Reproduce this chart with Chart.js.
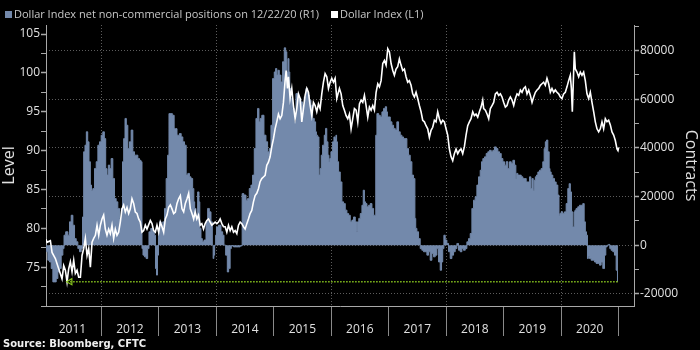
<!DOCTYPE html>
<html>
<head>
<meta charset="utf-8">
<script src="https://cdn.jsdelivr.net/npm/chart.js@4.4.1/dist/chart.umd.min.js"></script>
<style>
  html, body { margin: 0; padding: 0; background: #000; }
  #chart { display: block; }
</style>
</head>
<body>
<canvas id="chart" width="700" height="350"></canvas>
<script>
'use strict';

// ******** DATA (time as decimal year) **************

// Dollar Index net non-commercial positions, contracts
let posYears = [
  2011.04, 2011.058, 2011.087, 2011.116, 2011.145, 2011.174, 2011.203, 2011.232, 2011.261, 2011.29,
  2011.319, 2011.348, 2011.359, 2011.406, 2011.435, 2011.464, 2011.493, 2011.522, 2011.551, 2011.58,
  2011.609, 2011.638, 2011.667, 2011.684, 2011.707, 2011.73, 2011.754, 2011.777, 2011.8, 2011.823,
  2011.841, 2011.87, 2011.899, 2011.928, 2011.957, 2011.986, 2012.014, 2012.043, 2012.067, 2012.09,
  2012.113, 2012.136, 2012.159, 2012.188, 2012.217, 2012.246, 2012.275, 2012.304, 2012.333, 2012.362,
  2012.38, 2012.403, 2012.426, 2012.449, 2012.478, 2012.507, 2012.536, 2012.565, 2012.594, 2012.623,
  2012.652, 2012.681, 2012.704, 2012.716, 2012.739, 2012.768, 2012.797, 2012.82, 2012.843, 2012.884,
  2012.913, 2012.936, 2012.954, 2012.971, 2012.988, 2013.006, 2013.029, 2013.058, 2013.087, 2013.116,
  2013.145, 2013.168, 2013.191, 2013.226, 2013.249, 2013.29, 2013.348, 2013.377, 2013.406, 2013.435,
  2013.464, 2013.493, 2013.522,
  2013.548, 2013.577, 2013.606, 2013.618, 2013.635, 2013.664, 2013.693, 2013.71, 2013.722, 2013.751,
  2013.768, 2013.809, 2013.838, 2013.867, 2013.896, 2013.925, 2013.942, 2013.954, 2013.965, 2013.983,
  2014.0, 2014.012, 2014.07, 2014.099, 2014.128, 2014.145, 2014.186, 2014.203, 2014.232, 2014.255,
  2014.273, 2014.331, 2014.389, 2014.447, 2014.458, 2014.505, 2014.534, 2014.562, 2014.591, 2014.62,
  2014.649, 2014.678, 2014.707, 2014.736, 2014.754, 2014.777, 2014.812, 2014.852, 2014.881, 2014.91,
  2014.939, 2014.968, 2014.997, 2015.026, 2015.044, 2015.067, 2015.084, 2015.113, 2015.142, 2015.171,
  2015.2, 2015.218, 2015.241, 2015.258, 2015.276, 2015.287, 2015.316, 2015.345, 2015.374, 2015.403,
  2015.432, 2015.461, 2015.49, 2015.519, 2015.548, 2015.577, 2015.606, 2015.635, 2015.664, 2015.693,
  2015.722, 2015.739, 2015.751, 2015.78, 2015.797, 2015.82, 2015.838, 2015.867, 2015.896, 2015.913,
  2015.936, 2015.954, 2015.971, 2015.983, 2016.012, 2016.041, 2016.058, 2016.081,
  2016.087, 2016.104, 2016.116, 2016.145, 2016.174, 2016.203, 2016.232, 2016.261, 2016.29, 2016.319,
  2016.348, 2016.377, 2016.406, 2016.435, 2016.452, 2016.47, 2016.493, 2016.522, 2016.551, 2016.568,
  2016.591, 2016.609, 2016.638, 2016.667, 2016.696, 2016.725, 2016.754, 2016.771, 2016.783, 2016.812,
  2016.841, 2016.87, 2016.899, 2016.928, 2016.957, 2016.974, 2016.986, 2017.015, 2017.044, 2017.073,
  2017.101, 2017.13, 2017.159, 2017.188, 2017.217, 2017.246, 2017.275, 2017.304, 2017.333, 2017.362,
  2017.391, 2017.42, 2017.449, 2017.467, 2017.478, 2017.507, 2017.536, 2017.565, 2017.594, 2017.623,
  2017.652, 2017.681, 2017.71, 2017.739, 2017.768, 2017.797, 2017.826, 2017.855, 2017.884, 2017.913,
  2017.93, 2017.954, 2017.971, 2018.0, 2018.029, 2018.058, 2018.087, 2018.116, 2018.145, 2018.174,
  2018.203, 2018.232, 2018.261, 2018.29, 2018.319, 2018.348, 2018.377, 2018.406, 2018.435, 2018.464,
  2018.493, 2018.522, 2018.551, 2018.58, 2018.609,
  2018.626, 2018.655, 2018.684, 2018.713, 2018.742, 2018.771, 2018.8, 2018.829, 2018.858, 2018.887,
  2018.916, 2018.945, 2018.974, 2019.003, 2019.032, 2019.061, 2019.09, 2019.119, 2019.148, 2019.177,
  2019.206, 2019.223, 2019.235, 2019.264, 2019.293, 2019.322, 2019.351, 2019.38, 2019.409, 2019.438,
  2019.467, 2019.484, 2019.507, 2019.525, 2019.542, 2019.565, 2019.583, 2019.612, 2019.64, 2019.669,
  2019.698, 2019.716, 2019.739, 2019.756, 2019.785, 2019.803, 2019.814, 2019.843, 2019.872, 2019.901,
  2019.93, 2019.959, 2019.971, 2019.988, 2020.017, 2020.046, 2020.075, 2020.104, 2020.133, 2020.151,
  2020.174, 2020.191, 2020.22, 2020.238, 2020.249, 2020.278, 2020.307, 2020.336, 2020.365, 2020.394,
  2020.412, 2020.435, 2020.452, 2020.469, 2020.481, 2020.51, 2020.539, 2020.568, 2020.597, 2020.626,
  2020.655, 2020.684, 2020.713, 2020.742, 2020.771, 2020.788, 2020.817, 2020.84, 2020.858, 2020.887,
  2020.916, 2020.945, 2020.974, 2020.991
];
let posValues = [
  -1500, -2700, -6200, -6900, -9600, -15100, -15100, -13700, -11000, -9600,
  -4100, -1400, 4100, 5500, 4100, 9600, 12300, 8200, 2700, 1400,
  -1400, -2700, -1400, 11600, 38400, 41100, 46600, 42500, 34300, 24700,
  22600, 23300, 31500, 34300, 41100, 42500, 45200, 46600, 43800, 31500,
  28800, 32900, 31500, 35600, 27400, 19200, 17800, 15100, 11000, 15100,
  34300, 43800, 52100, 49300, 39700, 42500, 47300, 38400, 37000, 37000,
  35600, 34900, 34300, -1400, -4100, -4800, -5500, -1400, 5500, 6900,
  5500, 4100, -9600, -12300, -4100, 6900, 9600, 8200, 9600, 15100,
  27400, 37000, 54100, 54100, 53400, 47900, 45200, 45900, 44500, 42500,
  41100, 28800, 29500,
  28100, 27400, 23300, 17800, 15100, 12300, 21900, 17800, 6900, 2700,
  1400, 2100, 9600, 15100, 13700, 9600, 0, -5500, -4100, 0,
  4100, 7500, 8200, 5500, 4100, 0, -4100, -11000, -9600, -1400,
  -300, -700, -700, -300, 21200, 20600, 18500, 19200, 23300, 24700,
  28800, 39700, 52100, 56200, 50700, 52100, 53400, 45200, 42500, 38400,
  39700, 49300, 68500, 71200, 72600, 69900, 71900, 69900, 67100, 75400,
  81100, 79500, 71200, 76700, 71200, 64400, 60300, 56200, 50700, 62300,
  61000, 60300, 58900, 57500, 61000, 64400, 61700, 59600, 57500, 52100,
  50700, 46600, 45200, 44500, 28800, 31500, 37000, 41100, 45200, 48000,
  42500, 37000, 34300, 35600, 38400, 42500, 44500, 43800,
  45200, 42500, 34300, 30100, 26000, 17800, 17100, 14400, 13000, 12300,
  9600, 10300, 11600, 9600, 5500, 9600, 11000, 13000, 16400, 22600,
  17800, 17100, 15800, 16400, 17100, 15100, 12300, 12300, 45200, 54100,
  53400, 52700, 54800, 56200, 56900, 54800, 52700, 52700, 50700, 49300,
  48000, 47300, 50700, 46600, 45200, 44500, 43800, 43800, 39700, 37000,
  34300, 28800, 27400, 11000, 6900, 5500, 2700, -1400, -2100, -2700,
  -2700, -4100, -2700, -6200, -3400, -4800, -4100, -1400, -6900, -10300,
  -6900, -1400, 4100, 2100, 700, -2700, -5500, -4100, -2700, -1400,
  700, -2100, -2700, -1400, -2100, -1400, 1400, 2700, 4800, 15100,
  18500, 19900, 24700, 28100, 30800,
  34300, 35600, 36300, 37700, 38400, 39000, 38400, 39000, 40400, 39700,
  38400, 37700, 35600, 34300, 32900, 34300, 31500, 34300, 33600, 34900,
  32900, 27400, 29500, 28800, 28800, 28100, 27400, 27400, 26000, 26000,
  28100, 23300, 27400, 22600, 26700, 28100, 28800, 30100, 30800, 31500,
  34300, 39700, 42500, 43200, 38400, 31500, 30100, 28800, 27400, 26000,
  24700, 20600, 12300, 13000, 13700, 13000, 13700, 17100, 23300, 25300,
  21900, 13700, 7500, 13700, 14400, 15100, 15800, 16400, 16400, 17100,
  9600, 5500, 4100, -5500, -4800, -5500, -6200, -6200, -6900, -7500,
  -7500, -8200, -6900, -9600, -4100, -700, 0, 300, -1400, -2100,
  -2700, -4100, -10300, -15000
];

// Dollar Index level
let dxyYears = [
  2011.04, 2011.058, 2011.116, 2011.145, 2011.203, 2011.261, 2011.319, 2011.348, 2011.377, 2011.406,
  2011.435, 2011.464, 2011.493, 2011.522, 2011.551, 2011.58, 2011.609, 2011.638, 2011.667, 2011.696,
  2011.725, 2011.754, 2011.783, 2011.812, 2011.841, 2011.87, 2011.899, 2011.928, 2011.957, 2011.986,
  2012.014, 2012.043, 2012.072, 2012.101, 2012.13, 2012.159, 2012.188, 2012.217, 2012.246, 2012.275,
  2012.304, 2012.333, 2012.362, 2012.391, 2012.42, 2012.449, 2012.478, 2012.507, 2012.536, 2012.565,
  2012.594, 2012.623, 2012.652, 2012.681, 2012.71, 2012.739, 2012.768, 2012.797, 2012.855, 2012.884,
  2012.913, 2012.942, 2012.971, 2013.0, 2013.029, 2013.058, 2013.087, 2013.116, 2013.145, 2013.174,
  2013.203, 2013.232, 2013.261, 2013.29, 2013.319, 2013.348, 2013.377, 2013.406, 2013.435, 2013.464,
  2013.493, 2013.522, 2013.551, 2013.58, 2013.609,
  2013.635, 2013.664, 2013.693, 2013.722, 2013.751, 2013.78, 2013.809, 2013.838, 2013.867, 2013.896,
  2013.925, 2013.954, 2013.983, 2014.012, 2014.041, 2014.07, 2014.099, 2014.128, 2014.157, 2014.186,
  2014.215, 2014.244, 2014.273, 2014.302, 2014.331, 2014.36, 2014.389, 2014.418, 2014.447, 2014.476,
  2014.505, 2014.534, 2014.562, 2014.591, 2014.62, 2014.649, 2014.678, 2014.707, 2014.736, 2014.765,
  2014.794, 2014.823, 2014.852, 2014.881, 2014.91, 2014.939, 2014.968, 2014.997, 2015.026, 2015.055,
  2015.084, 2015.113, 2015.142, 2015.171, 2015.2, 2015.218, 2015.241, 2015.258, 2015.287, 2015.316,
  2015.345, 2015.374, 2015.403, 2015.432, 2015.461, 2015.49, 2015.519, 2015.548, 2015.577, 2015.606,
  2015.635, 2015.664, 2015.693, 2015.722, 2015.751, 2015.78, 2015.809, 2015.838, 2015.867, 2015.896,
  2015.925, 2015.954, 2015.983, 2016.012, 2016.041, 2016.07,
  2016.099, 2016.145, 2016.174, 2016.203, 2016.232, 2016.261, 2016.29, 2016.319, 2016.348, 2016.377,
  2016.406, 2016.435, 2016.464, 2016.493, 2016.522, 2016.551, 2016.58, 2016.609, 2016.638, 2016.667,
  2016.696, 2016.725, 2016.754, 2016.783, 2016.812, 2016.841, 2016.87, 2016.899, 2016.928, 2016.957,
  2016.986, 2017.015, 2017.044, 2017.073, 2017.101, 2017.13, 2017.159, 2017.188, 2017.217, 2017.246,
  2017.275, 2017.304, 2017.333, 2017.362, 2017.391, 2017.42, 2017.449, 2017.478, 2017.507, 2017.536,
  2017.565, 2017.594, 2017.623, 2017.652, 2017.681, 2017.71, 2017.739, 2017.768, 2017.797, 2017.826,
  2017.855, 2017.884, 2017.913, 2017.942, 2017.971, 2018.0, 2018.029, 2018.058, 2018.087, 2018.116,
  2018.145, 2018.174, 2018.203, 2018.232, 2018.261, 2018.29, 2018.319, 2018.348, 2018.377, 2018.406,
  2018.435, 2018.464, 2018.493, 2018.522, 2018.551, 2018.58, 2018.609,
  2018.638, 2018.655, 2018.684, 2018.713, 2018.742, 2018.771, 2018.8, 2018.829, 2018.858, 2018.887,
  2018.916, 2018.945, 2018.974, 2019.003, 2019.032, 2019.061, 2019.09, 2019.119, 2019.148, 2019.177,
  2019.206, 2019.235, 2019.264, 2019.293, 2019.322, 2019.351, 2019.38, 2019.409, 2019.438, 2019.467,
  2019.496, 2019.525, 2019.554, 2019.583, 2019.612, 2019.64, 2019.669, 2019.698, 2019.727, 2019.756,
  2019.785, 2019.814, 2019.843, 2019.872, 2019.901, 2019.93, 2019.959, 2019.988, 2020.017, 2020.046,
  2020.075, 2020.104, 2020.133, 2020.162, 2020.18, 2020.197, 2020.214, 2020.232, 2020.249, 2020.278,
  2020.307, 2020.336, 2020.365, 2020.394, 2020.423, 2020.452, 2020.481, 2020.51, 2020.539, 2020.568,
  2020.597, 2020.626, 2020.655, 2020.684, 2020.713, 2020.742, 2020.771, 2020.8, 2020.829, 2020.858,
  2020.887, 2020.916, 2020.945, 2020.974, 2020.991, 2021.003
];
let dxyValues = [
  78.6, 78.2, 78.4, 76.9, 76.1, 74.8, 73.5, 75.2, 74.6, 73.1,
  74.8, 75.7, 74.4, 75.9, 74.2, 74.6, 73.7, 73.7, 76.5, 77.4,
  78.7, 76.5, 77.4, 75.0, 78.2, 78.7, 79.1, 80.4, 79.1, 80.4,
  81.2, 81.7, 79.9, 79.1, 79.9, 79.3, 80.4, 78.7, 79.9, 79.1,
  79.5, 80.8, 82.5, 83.0, 82.1, 82.7, 81.9, 82.5, 83.8, 83.2,
  82.1, 81.9, 81.2, 80.8, 79.5, 79.7, 80.4, 79.9, 81.0, 80.6,
  79.7, 79.5, 80.4, 79.5, 80.8, 80.2, 79.5, 81.2, 81.7, 82.7,
  83.0, 82.5, 81.9, 82.1, 83.2, 83.8, 84.2, 82.5, 82.1, 83.2,
  83.8, 84.5, 82.5, 81.9, 81.2,
  82.1, 81.2, 81.7, 80.4, 80.6, 79.9, 80.6, 81.0, 81.2, 80.8,
  80.4, 80.6, 80.8, 80.6, 80.8, 81.2, 80.6, 80.2, 80.2, 79.5,
  80.4, 79.7, 80.2, 79.5, 79.7, 79.3, 80.4, 80.8, 80.6, 80.2,
  79.9, 80.6, 81.2, 81.9, 82.3, 83.4, 84.2, 84.5, 85.1, 86.0,
  86.4, 86.6, 86.8, 88.1, 88.5, 89.2, 90.5, 91.5, 92.8, 93.7,
  94.7, 94.1, 94.5, 96.2, 99.0, 100.3, 98.0, 99.5, 96.7, 98.0,
  95.8, 94.1, 95.4, 97.3, 96.7, 93.7, 95.4, 97.1, 98.0, 97.5,
  95.8, 94.5, 96.2, 95.8, 95.0, 96.0, 95.4, 97.3, 98.8, 99.9,
  99.5, 98.0, 98.8, 99.3, 98.8, 99.3,
  96.7, 98.0, 97.3, 95.8, 95.2, 94.5, 94.1, 94.7, 92.8, 94.1,
  95.4, 95.2, 93.7, 96.0, 96.5, 96.2, 97.1, 95.8, 94.3, 95.6,
  95.2, 95.8, 95.2, 97.5, 98.6, 98.2, 99.0, 101.2, 101.6, 101.0,
  103.1, 102.7, 101.2, 100.3, 99.7, 100.5, 100.8, 101.8, 101.0, 100.3,
  100.5, 99.5, 98.8, 99.0, 98.4, 97.3, 96.9, 97.5, 96.7, 95.8,
  95.0, 93.9, 93.7, 93.2, 92.8, 91.7, 92.6, 93.0, 93.9, 93.7,
  95.0, 94.1, 93.5, 93.9, 93.7, 92.8, 92.0, 90.2, 89.2, 88.7,
  89.6, 90.2, 89.6, 90.0, 90.2, 89.6, 90.5, 92.0, 93.2, 93.7,
  94.1, 95.0, 94.5, 94.7, 94.3, 95.0, 95.6,
  96.5, 95.4, 95.2, 94.7, 94.1, 95.4, 95.8, 96.2, 97.3, 97.5,
  97.1, 97.3, 96.9, 96.2, 95.6, 95.8, 96.5, 96.9, 96.5, 95.8,
  96.7, 97.3, 97.1, 97.8, 97.5, 98.0, 98.2, 97.3, 97.8, 97.1,
  96.2, 96.9, 97.5, 97.8, 98.0, 98.4, 98.6, 98.8, 98.4, 99.3,
  98.6, 97.5, 98.0, 97.5, 97.8, 97.5, 97.3, 96.9, 96.7, 97.3,
  97.5, 98.2, 99.0, 99.7, 98.0, 95.0, 98.8, 102.7, 100.5, 100.1,
  99.5, 100.1, 99.7, 100.1, 99.0, 97.3, 96.7, 97.5, 96.2, 95.0,
  93.7, 92.8, 92.4, 92.8, 93.7, 92.8, 94.1, 93.7, 93.9, 93.3,
  92.4, 92.0, 91.3, 90.2, 90.0, 90.4
];

// axis labels
let yearLabels = ['2011', '2012', '2013', '2014', '2015', '2016', '2017', '2018', '2019', '2020'];
let levelTicks = [75, 80, 85, 90, 95, 100, 105];
let contractTicks = [-20000, 0, 20000, 40000, 60000, 80000];
let legendLabels = ['Dollar Index net non-commercial positions on 12/22/20 (R1)', 'Dollar Index (L1)'];
let sourceText = 'Source: Bloomberg, CFTC';

// last position marker runs back to here
let markerStart = 2011.46;
let lastPosition = posValues[posValues.length - 1];

// ********* STYLE ****************
let posColor = '#7389ab';
let lineColor = '#ffffff';
let markerColor = '#86c21e';
let axisColor = '#a8a8a8';
let gridColor = '#5c5c5c';
let textColor = '#e0e0e0';

Chart.defaults.font.family = "'Open Sans', sans-serif";
Chart.defaults.color = textColor;

// ********* HELPERS ****************
function toPoints(xs, ys) {
  return xs.map((x, i) => ({ x: x, y: ys[i] }));
}

// year boundaries + mid-year label slots
let xTickValues = [];
yearLabels.forEach((y) => {
  xTickValues.push(Number(y) + 0.5);
  xTickValues.push(Number(y) + 1);
});

let leftTickValues = [];
for (let v = 70; v <= 105; v += 2.5) leftTickValues.push(v);

let rightTickValues = [];
for (let v = -20000; v <= 90000; v += 10000) rightTickValues.push(v);

// legend + source line
const headerFooter = {
  id: 'headerFooter',
  afterDraw(chart) {
    const ctx = chart.ctx;
    ctx.save();
    ctx.textBaseline = 'middle';
    ctx.font = "11px 'Open Sans'";
    ctx.fillStyle = posColor;
    ctx.fillRect(5, 11, 7, 7);
    ctx.fillStyle = '#c8c8c8';
    ctx.fillText(legendLabels[0], 14, 15);
    let x2 = 14 + ctx.measureText(legendLabels[0]).width + 12;
    ctx.fillStyle = lineColor;
    ctx.fillRect(x2, 11, 7, 7);
    ctx.fillStyle = '#c8c8c8';
    ctx.fillText(legendLabels[1], x2 + 9, 15);

    ctx.font = "bold 10px 'DejaVu Sans'";
    ctx.fillStyle = '#f0f0f0';
    ctx.fillText(sourceText, 3, 344);
    ctx.restore();
  }
};

// ********* CHART ****************
let canvasElem = document.getElementById('chart');

new Chart(canvasElem, {
  type: 'line',
  data: {
    datasets: [
      {
        label: 'last',
        data: [{ x: markerStart, y: lastPosition }, { x: posYears[posYears.length - 1], y: lastPosition }],
        yAxisID: 'yR',
        borderColor: markerColor,
        borderWidth: 1.5,
        borderDash: [1.5, 1.5],
        pointStyle: 'triangle',
        rotation: 270,
        pointRadius: [3.5, 0],
        pointBackgroundColor: 'transparent',
        pointBorderColor: markerColor,
        pointBorderWidth: 1.2
      },
      {
        label: legendLabels[1],
        data: toPoints(dxyYears, dxyValues),
        yAxisID: 'yL',
        borderColor: lineColor,
        borderWidth: 1.6,
        pointRadius: 0,
        tension: 0
      },
      {
        label: legendLabels[0],
        data: toPoints(posYears, posValues),
        yAxisID: 'yR',
        borderColor: posColor,
        backgroundColor: posColor,
        borderWidth: 1,
        fill: 'origin',
        stepped: 'middle',
        pointRadius: 0
      }
    ]
  },
  options: {
    responsive: false,
    animation: false,
    devicePixelRatio: 1,
    layout: { padding: { top: 25, left: 0, right: 0, bottom: 0 } },
    plugins: {
      legend: { display: false },
      tooltip: { enabled: false }
    },
    scales: {
      x: {
        type: 'linear',
        min: 2011.04,
        max: 2021.27,
        afterBuildTicks: (scale) => { scale.ticks = xTickValues.map((v) => ({ value: v })); },
        afterFit: (scale) => { scale.height = 44; },
        grid: {
          color: (c) => (c.tick && Number.isInteger(c.tick.value) && c.tick.value % 2 === 0) ? gridColor : 'transparent',
          tickColor: (c) => (c.tick && Number.isInteger(c.tick.value)) ? '#8a8a8a' : 'transparent',
          tickLength: 30,
          lineWidth: 1
        },
        border: { color: axisColor, width: 1, dash: [1, 2] },
        ticks: {
          autoSkip: false,
          maxRotation: 0,
          padding: -14,
          color: textColor,
          font: { size: 12 },
          callback: (v) => Number.isInteger(v) ? '' : String(Math.floor(v))
        }
      },
      yL: {
        position: 'left',
        min: 70,
        max: 106.16,
        afterBuildTicks: (scale) => { scale.ticks = leftTickValues.map((v) => ({ value: v })); },
        afterFit: (scale) => { scale.width = 46; },
        grid: {
          drawOnChartArea: false,
          tickLength: 5,
          tickColor: axisColor,
          tickWidth: (c) => (c.tick && levelTicks.includes(c.tick.value)) ? 1.5 : 1
        },
        border: { color: axisColor, width: 1 },
        ticks: {
          padding: 1,
          color: textColor,
          font: { size: 12 },
          callback: (v) => levelTicks.includes(v) ? String(v) : ''
        },
        title: { display: true, text: 'Level', color: textColor, font: { size: 16 }, padding: 0 }
      },
      yR: {
        position: 'right',
        min: -25000,
        max: 90500,
        afterBuildTicks: (scale) => { scale.ticks = rightTickValues.map((v) => ({ value: v })); },
        afterFit: (scale) => { scale.width = 66; },
        grid: {
          color: (c) => (c.tick && contractTicks.includes(c.tick.value)) ? gridColor : 'transparent',
          tickLength: 5,
          tickColor: axisColor,
          tickWidth: (c) => (c.tick && contractTicks.includes(c.tick.value)) ? 1.5 : 1
        },
        border: { color: axisColor, width: 1, dash: [1, 2] },
        ticks: {
          padding: 1,
          color: textColor,
          font: { size: 12 },
          callback: (v) => contractTicks.includes(v) ? String(v) : ''
        },
        title: { display: true, text: 'Contracts', color: textColor, font: { size: 16 }, padding: 0 }
      }
    }
  },
  plugins: [headerFooter]
});
</script>
</body>
</html>
